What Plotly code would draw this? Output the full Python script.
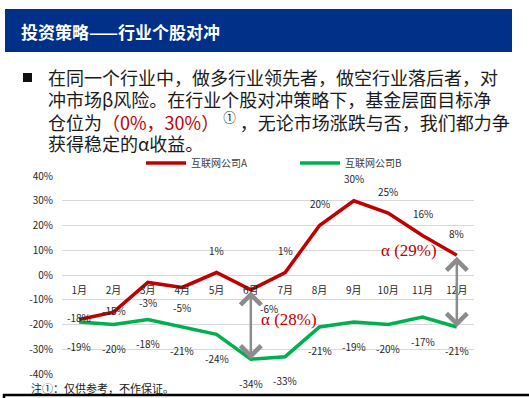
import plotly.graph_objects as go

# ---------------- data ----------------
months = ["1月", "2月", "3月", "4月", "5月", "6月", "7月", "8月", "9月", "10月", "11月", "12月"]
company_a = [-18, -15, -3, -5, 1, -6, 1, 20, 30, 25, 16, 8]
company_b = [-19, -20, -18, -21, -24, -34, -33, -21, -19, -20, -17, -21]
name_a = "互联网公司A"
name_b = "互联网公司B"
y_ticks = [-40, -30, -20, -10, 0, 10, 20, 30, 40]
y_tick_labels = ["-40%", "-30%", "-20%", "-10%", "0%", "10%", "20%", "30%", "40%"]
alpha_points = [5, 11]          # month indices with alpha arrows
title_text = "投资策略——行业个股对冲"
footnote = "注①：仅供参考，不作保证。"

# label placement styles for series A (style only)
a_label_style = ["on", "on", "below", "below", "above", "below_right", "above",
                 "above", "above", "above", "above", "above"]

W, H = 529, 398
ML, MR, MT, MB = 62, 55, 176, 24
PW, PH = W - ML - MR, H - MT - MB


def px2x(px):
    return (px - ML) / PW


def py2y(py):
    return (H - MB - py) / PH


RED = "#C00000"
GREEN = "#00B050"
GRAY = "#8C8C8C"
FONT = "Noto Sans CJK SC"

fig = go.Figure()
fig.add_trace(go.Scatter(x=months, y=company_a, name=name_a, mode="lines",
                         line=dict(color=RED, width=3.5)))
fig.add_trace(go.Scatter(x=months, y=company_b, name=name_b, mode="lines",
                         line=dict(color=GREEN, width=3.5)))

ann = []
lab_font = dict(family=FONT, size=10, color="#262626")
for i, (m, v) in enumerate(zip(months, company_a)):
    st = a_label_style[i]
    xs, ys = 0, 0
    if st == "on":
        ys = 2
    elif st == "below":
        ys = -20
    elif st == "above":
        ys = 22
    elif st == "below_right":
        ys, xs = -19, 18
    ann.append(dict(x=m, y=v, text=f"{v}%", showarrow=False, xshift=xs, yshift=ys,
                    font=lab_font))
for m, v in zip(months, company_b):
    ann.append(dict(x=m, y=v, text=f"{v}%", showarrow=False, yshift=-24, font=lab_font))

# alpha arrows
for idx in alpha_points:
    m = months[idx]
    ann.append(dict(x=m, y=company_b[idx], ax=m, ay=company_a[idx], xref="x", yref="y",
                    axref="x", ayref="y", showarrow=True, arrowhead=4, startarrowhead=4,
                    arrowside="end+start", arrowwidth=2.5, arrowsize=1.6, startarrowsize=1.6,
                    arrowcolor=GRAY, text=""))
    spread = company_a[idx] - company_b[idx]
    mid = (company_a[idx] + company_b[idx]) / 2
    a_font = dict(family="Liberation Serif", size=17, color=RED)
    if idx == alpha_points[0]:
        ann.append(dict(x=m, y=mid, yshift=5, text=f"α ({spread}%)",
                        showarrow=False, xanchor="left", xshift=8, font=a_font))
    else:
        ann.append(dict(x=m, y=mid, yshift=41, text=f"α ({spread}%)",
                        showarrow=False, xanchor="right", xshift=-18, font=a_font))

# title
ann.append(dict(xref="paper", yref="paper", x=px2x(19), y=py2y(31), xanchor="left",
                yanchor="middle", text=f"<b>{title_text}</b>", showarrow=False,
                font=dict(family=FONT, size=17, color="white")))

# paragraph
body_font = dict(family=FONT, size=18, color="#1a1a1a")
lines = [
    "在同一个行业中，做多行业领先者，做空行业落后者，对",
    "冲市场β风险。在行业个股对冲策略下，基金层面目标净",
    "仓位为<span style='color:#C00000'>（0%，30%）</span> <sup>①</sup> ，无论市场涨跌与否，我们都力争",
    "获得稳定的α收益。",
]
line_y = [77, 99, 121, 143]
for t, yy in zip(lines, line_y):
    ann.append(dict(xref="paper", yref="paper", x=px2x(46), y=py2y(yy), xanchor="left",
                    yanchor="middle", text=t, showarrow=False, font=body_font))

# footnote
ann.append(dict(xref="paper", yref="paper", x=px2x(29), y=py2y(388), xanchor="left",
                yanchor="middle", text=footnote, showarrow=False,
                font=dict(family=FONT, size=11, color="#1a1a1a")))

shapes = [
    dict(type="rect", xref="paper", yref="paper", x0=px2x(5), x1=px2x(512),
         y0=py2y(52), y1=py2y(9), fillcolor="#003087", line=dict(width=0), layer="below"),
    dict(type="rect", xref="paper", yref="paper", x0=px2x(23), x1=px2x(32),
         y0=py2y(82), y1=py2y(73), fillcolor="#111111", line=dict(width=0)),
    dict(type="rect", xref="paper", yref="paper", x0=px2x(4), x1=px2x(540),
         y0=py2y(420), y1=py2y(395), fillcolor="rgba(0,0,0,0)",
         line=dict(color="#000000", width=2.5)),
]

fig.update_layout(
    width=W, height=H,
    margin=dict(l=ML, r=MR, t=MT, b=MB, pad=0),
    paper_bgcolor="white", plot_bgcolor="white",
    font=dict(family=FONT, size=10, color="#404040"),
    showlegend=True,
    legend=dict(orientation="h", x=px2x(141), xanchor="left", y=py2y(163), yanchor="middle",
                font=dict(family=FONT, size=10, color="#404040"), bgcolor="rgba(0,0,0,0)",
                entrywidth=99, entrywidthmode="pixels", itemwidth=40,
                tracegroupgap=0),
    annotations=ann,
    shapes=shapes,
)
fig.update_xaxes(type="category", range=[-0.5, 11.5], anchor="free", position=0.5,
                 showgrid=False, showline=False, zeroline=False,
                 ticks="outside", ticklen=6, tickcolor="rgba(0,0,0,0)",
                 tickfont=dict(family=FONT, size=10, color="#262626"))
fig.update_yaxes(range=[-40, 40], tickvals=y_ticks, ticktext=y_tick_labels,
                 showgrid=True, gridcolor="#D9D9D9", gridwidth=1.2, zeroline=False,
                 showline=False, ticks="", ticklabelstandoff=8,
                 tickfont=dict(family=FONT, size=10, color="#262626"))

fig.write_html("out.html", config={"displayModeBar": False},
               post_script="document.body.style.margin='0';")
